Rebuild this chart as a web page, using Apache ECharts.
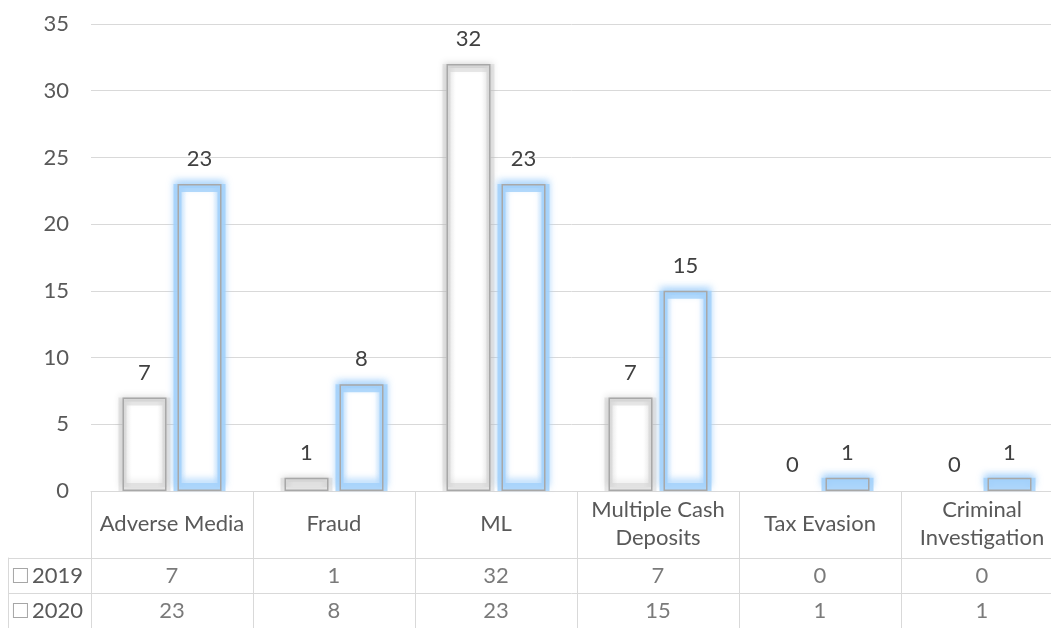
<!DOCTYPE html>
<html>
<head>
<meta charset="utf-8">
<script src="https://cdn.jsdelivr.net/npm/echarts@6/dist/echarts.min.js"></script>
<style>
  html, body { margin: 0; padding: 0; background: #fff; }
  #mychart { width: 1051px; height: 628px; }
</style>
</head>
<body>
<div id="mychart"></div>
<script>
let categories = ['Adverse Media', 'Fraud', 'ML', 'Multiple Cash\nDeposits', 'Tax Evasion', 'Criminal\nInvestigation']
let years = ['2019', '2020']
let values2019 = [7, 1, 32, 7, 0, 0]
let values2020 = [23, 8, 23, 15, 1, 1]

let font = 'Lato'
let textColor = '#595959'
let lineColor = '#d9d9d9'

function tableCells(year, vals) {
    return categories.map((c, i) => [c, year, vals[i]])
}

// zero bars get no visible outline (only the label "0")
function outlineData(vals) {
    return vals.map(v => v === 0 ? { value: v, itemStyle: { borderColor: 'transparent' } } : v)
}
function glowData(vals) {
    return vals.map(v => v === 0 ? null : v)
}

let myChart = echarts.init(document.getElementById('mychart'))

let grayFill = new echarts.graphic.LinearGradient(0, 0, 1, 0, [
    { offset: 0, color: '#e2e2e2' },
    { offset: 0.25, color: '#ffffff' },
    { offset: 0.75, color: '#ffffff' },
    { offset: 1, color: '#e2e2e2' }
])
let blueFill = new echarts.graphic.LinearGradient(0, 0, 1, 0, [
    { offset: 0, color: '#bcdcfb' },
    { offset: 0.25, color: '#ffffff' },
    { offset: 0.75, color: '#ffffff' },
    { offset: 1, color: '#bcdcfb' }
])

let barLabel = {
    show: true,
    position: 'top',
    distance: 14,
    fontFamily: font,
    fontSize: 22,
    color: '#404040'
}

let cellLabel = {
    show: true,
    position: 'inside',
    formatter: p => p.value[2],
    fontFamily: font,
    fontSize: 22,
    color: textColor
}

let option = {
    animation: false,
    textStyle: { fontFamily: font },
    grid: [
        { left: 91, width: 972, top: 24, bottom: 137, outerBoundsMode: 'none', containLabel: false },
        { left: 91, width: 972, top: 558, bottom: 0, outerBoundsMode: 'none', containLabel: false }
    ],
    xAxis: [
        {
            gridIndex: 0,
            type: 'category',
            data: categories,
            axisLine: { lineStyle: { color: lineColor } },
            axisTick: { show: true, length: 137, lineStyle: { color: lineColor } },
            axisLabel: {
                interval: 0,
                margin: 33,
                verticalAlign: 'middle',
                lineHeight: 28,
                fontFamily: font,
                fontSize: 22,
                color: textColor
            }
        },
        {
            gridIndex: 1,
            type: 'category',
            data: categories,
            position: 'top',
            axisLine: { show: true, lineStyle: { color: lineColor } },
            axisTick: { show: false },
            axisLabel: { show: false }
        },
        {
            // twin of the first axis, carries the thin outline bars on top of the glow
            gridIndex: 0,
            type: 'category',
            data: categories,
            show: false
        }
    ],
    yAxis: [
        {
            gridIndex: 0,
            type: 'value',
            min: 0,
            max: 35,
            interval: 5,
            axisLine: { show: false },
            axisTick: { show: false },
            axisLabel: { margin: 22, fontFamily: font, fontSize: 22, color: textColor },
            splitLine: { lineStyle: { color: lineColor } }
        },
        {
            gridIndex: 1,
            type: 'category',
            data: years,
            inverse: true,
            axisLine: { show: false },
            axisTick: { show: true, length: 83, lineStyle: { color: lineColor } },
            splitLine: { show: true, lineStyle: { color: lineColor } },
            axisLabel: {
                margin: 8,
                formatter: v => '{k|}{t|' + v + '}',
                rich: {
                    k: { width: 13, height: 13, borderColor: '#a6a6a6', borderWidth: 1, backgroundColor: '#fff' },
                    t: { fontFamily: font, fontSize: 22, color: textColor, padding: [0, 0, 0, 5] }
                }
            }
        },
        {
            gridIndex: 1,
            type: 'category',
            data: years,
            inverse: true,
            position: 'left',
            offset: 83,
            axisLine: { show: true, lineStyle: { color: lineColor } },
            axisTick: { show: false },
            axisLabel: { show: false },
            splitLine: { show: false }
        }
    ],
    series: [
        {
            name: '2019 glow',
            type: 'bar',
            xAxisIndex: 0,
            yAxisIndex: 0,
            data: glowData(values2019),
            barWidth: 52,
            barGap: '5.77%',
            itemStyle: {
                color: grayFill,
                borderColor: 'rgba(205,205,205,0.45)',
                borderWidth: 8,
                shadowBlur: 6,
                shadowOffsetY: -3,
                shadowColor: 'rgba(0,0,0,0.15)'
            }
        },
        {
            name: '2020 glow',
            type: 'bar',
            xAxisIndex: 0,
            yAxisIndex: 0,
            data: glowData(values2020),
            barWidth: 52,
            barGap: '5.77%',
            itemStyle: {
                color: blueFill,
                borderColor: 'rgba(160,208,250,0.8)',
                borderWidth: 8,
                shadowBlur: 7,
                shadowOffsetY: -4,
                shadowColor: '#a6d2fb'
            }
        },
        {
            name: '2019',
            type: 'bar',
            xAxisIndex: 2,
            yAxisIndex: 0,
            data: outlineData(values2019),
            barWidth: 44,
            barGap: '25%',
            itemStyle: { color: 'transparent', borderColor: '#a8a8a8', borderWidth: 1.5 },
            label: barLabel
        },
        {
            name: '2020',
            type: 'bar',
            xAxisIndex: 2,
            yAxisIndex: 0,
            data: outlineData(values2020),
            barWidth: 44,
            barGap: '25%',
            itemStyle: { color: 'transparent', borderColor: '#a8a8a8', borderWidth: 1.5 },
            label: barLabel
        },
        {
            type: 'scatter',
            xAxisIndex: 1,
            yAxisIndex: 1,
            symbolSize: 1,
            itemStyle: { color: 'rgba(0,0,0,0)' },
            data: tableCells(years[0], values2019).concat(tableCells(years[1], values2020)),
            label: cellLabel
        }
    ]
}

myChart.setOption(option)
</script>
</body>
</html>
